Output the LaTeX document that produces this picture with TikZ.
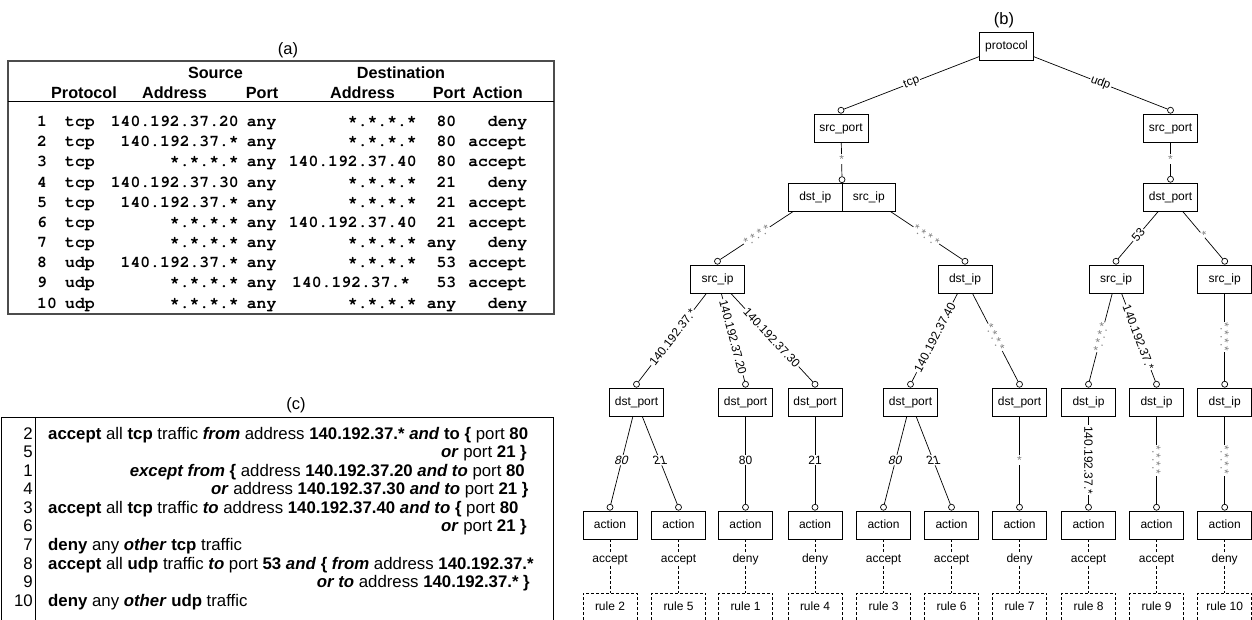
\documentclass[tikz,border=0pt]{standalone}
\usepackage{fontspec}
\setmainfont{Liberation Sans}
\newfontfamily\monob{TeX Gyre Cursor}
\newcommand\kb[1]{\textbf{#1}}
\newcommand\kbi[1]{\textbf{\textit{#1}}}
\tikzset{
  tbox/.style={draw, line width=0.8pt, minimum width=54pt, minimum height=28pt, inner sep=0pt,
    text height=8.6pt, text depth=2.6pt, font=\fontsize{12}{14}\selectfont},
  rbox/.style={tbox, dash pattern=on 3pt off 2pt},
  knob/.style={circle, draw, fill=white, line width=0.7pt, inner sep=0pt, minimum size=6pt, anchor=south},
  edge/.style={line width=0.7pt},
  dedge/.style={line width=0.7pt, dash pattern=on 3pt off 2pt},
  lab/.style={fill=white, inner sep=1pt, font=\fontsize{12}{14}\selectfont},
  slab/.style={lab, sloped},
  glab/.style={lab, text=black!50},
  gslab/.style={glab, sloped},
  restxt/.style={inner sep=1pt, font=\fontsize{12}{14}\selectfont, text height=8.6pt, text depth=2.6pt},
  mono/.style={inner sep=0pt, anchor=base, font=\monob\bfseries\fontsize{16.4}{18}\selectfont},
  hdr/.style={inner sep=0pt, anchor=base, font=\bfseries\fontsize{16.2}{18}\selectfont},
  ctxt/.style={inner sep=0pt, font=\fontsize{16.8}{18}\selectfont},
  captxt/.style={inner sep=0pt, font=\fontsize{16.5}{18}\selectfont},
}
\newcommand\arow[9]{%
  \node[mono, anchor=base west] (r#2n) at (37,#1) {#2};
  \node[mono, anchor=base west] (r#2p) at (65,#1) {#3};
  \node[mono, anchor=base east] (r#2s) at (239,#1) {#4};
  \node[mono, anchor=base west] (r#2q) at (246.7,#1) {any};
  \node[mono, anchor=base east] (r#2d) at (#8,#1) {#5};
  \node[mono, anchor=base east] (r#2e) at (456.5,#1) {#6};
  \node[mono, anchor=base east] (r#2a) at (527.5,#1) {#7};
}
\begin{document}
\begin{tikzpicture}[x=1pt,y=-1pt]
\useasboundingbox (0,0) rectangle (1252,619);
\clip (0,0) rectangle (1252,619);
\fill[white] (0,0) rectangle (1252,619);

% ---------------- (a) table ----------------
\node[captxt] (capa) at (288,50) {(a)};
\draw[line width=1.1pt, black!70] (8,61) rectangle (554,314);
\draw[line width=0.8pt] (8,101) -- (554,101);
\node[hdr] (hsrc) at (215.5,78.5) {Source};
\node[hdr] (hdst) at (401,78.5) {Destination};
\node[hdr] (hprot) at (84,98) {Protocol};
\node[hdr] (hsa) at (174.5,98) {Address};
\node[hdr] (hsp) at (262,98) {Port};
\node[hdr] (hda) at (362.5,98) {Address};
\node[hdr] (hdp) at (449,98) {Port};
\node[hdr] (hac) at (497.5,98) {Action};
\arow{126.5}{1}{tcp}{140.192.37.20}{*.*.*.*}{80}{deny}{417}{}
\arow{146.7}{2}{tcp}{140.192.37.*}{*.*.*.*}{80}{accept}{417}{}
\arow{166.9}{3}{tcp}{*.*.*.*}{140.192.37.40}{80}{accept}{417}{}
\arow{187.0}{4}{tcp}{140.192.37.30}{*.*.*.*}{21}{deny}{417}{}
\arow{207.2}{5}{tcp}{140.192.37.*}{*.*.*.*}{21}{accept}{417}{}
\arow{227.4}{6}{tcp}{*.*.*.*}{140.192.37.40}{21}{accept}{417}{}
\arow{247.6}{7}{tcp}{*.*.*.*}{*.*.*.*}{any}{deny}{417}{}
\arow{267.8}{8}{udp}{140.192.37.*}{*.*.*.*}{53}{accept}{417}{}
\arow{287.9}{9}{udp}{*.*.*.*}{140.192.37.*}{53}{accept}{410.5}{}
\arow{308.1}{10}{udp}{*.*.*.*}{*.*.*.*}{any}{deny}{417}{}

% ---------------- (c) table ----------------
\node[captxt] (capc) at (296,405) {(c)};
\draw[line width=0.8pt] (1,417) rectangle (553.6,640);
\draw[line width=0.8pt] (35.7,417) -- (35.7,640);
\foreach \n/\yy in {2/433,5/451.6,1/470.1,4/488.7,3/507.3,6/525.9,7/544.4,8/563,9/581.6,10/600.1}{
  \node[ctxt, anchor=base east] (cn\n) at (33,\yy+6) {\n};
}
\node[ctxt, anchor=base west] (cl1) at (48,439) {\kb{accept} all \kb{tcp} traffic \kbi{from} address \kb{140.192.37.*} \kbi{and} \kb{to \{} port \kb{80}};
\node[ctxt, anchor=base east] (cl2) at (527,457.6) {\kbi{or} port \kb{21 \}}};
\node[ctxt, anchor=base east] (cl3) at (525,476.1) {\kbi{except from} \kb{\{} address \kb{140.192.37.20} \kbi{and to} port \kb{80}};
\node[ctxt, anchor=base east] (cl4) at (528.6,494.7) {\kbi{or} address \kb{140.192.37.30} \kbi{and to} port \kb{21 \}}};
\node[ctxt, anchor=base west] (cl5) at (48,513.3) {\kb{accept} all \kb{tcp} traffic \kbi{to} address \kb{140.192.37.40} \kbi{and to} \kb{\{} port \kb{80}};
\node[ctxt, anchor=base east] (cl6) at (527,531.9) {\kbi{or} port \kb{21 \}}};
\node[ctxt, anchor=base west] (cl7) at (48,550.4) {\kb{deny} any \kbi{other} \kb{tcp} traffic};
\node[ctxt, anchor=base west] (cl8) at (48,569) {\kb{accept} all \kb{udp} traffic \kbi{to} port \kb{53} \kbi{and} \kb{\{} \kbi{from} address \kb{140.192.37.*}};
\node[ctxt, anchor=base east] (cl9) at (530,587.6) {\kbi{or to} address \kb{140.192.37.* \}}};
\node[ctxt, anchor=base west] (cl10) at (48,606.1) {\kb{deny} any \kbi{other} \kb{udp} traffic};

% ---------------- (b) tree ----------------
\node[captxt] (capb) at (1004,20) {(b)};
\node[tbox] (proto) at (1006.5,46) {protocol};
\node[tbox] (sp1) at (841,128) {src\_port};
\node[tbox] (sp2) at (1170.5,128) {src\_port};
\node[tbox, minimum width=53.5pt] (dipA) at (815.25,197) {dst\_ip};
\node[tbox, minimum width=53.5pt] (sipA) at (868.75,197) {src\_ip};
\coordinate (jA) at (842,183);
\node[tbox] (dpU) at (1170.5,197) {dst\_port};
\node[tbox] (sipB) at (717.5,279) {src\_ip};
\node[tbox] (dipB) at (965,279) {dst\_ip};
\node[tbox] (sipC) at (1116,279) {src\_ip};
\node[tbox] (sipD) at (1224.7,279) {src\_ip};
\node[tbox] (dp1) at (636.5,402) {dst\_port};
\node[tbox] (dp2) at (745.5,402) {dst\_port};
\node[tbox] (dp3) at (815,402) {dst\_port};
\node[tbox] (dp4) at (910.5,402) {dst\_port};
\node[tbox] (dp5) at (1019.5,402) {dst\_port};
\node[tbox] (di1) at (1088.5,402) {dst\_ip};
\node[tbox] (di2) at (1156.5,402) {dst\_ip};
\node[tbox] (di3) at (1224.7,402) {dst\_ip};

\foreach \i/\xx/\res/\rl in {1/610/accept/2, 2/678.5/accept/5, 3/745.5/deny/1, 4/815/deny/4, 5/883.5/accept/3,
   6/951.5/accept/6, 7/1019.5/deny/7, 8/1088.5/accept/8, 9/1156.5/accept/9, 10/1224.7/deny/10}{
  \node[tbox] (act\i) at (\xx,525) {action};
  \node[restxt] (res\i) at (\xx,559) {\res};
  \node[rbox] (rule\i) at (\xx,607) {rule \rl};
  \draw[dedge] (act\i) -- (res\i);
  \draw[dedge] (res\i) -- (rule\i);
  \node[knob] (kact\i) at (act\i.north) {};
}
\foreach \n in {sp1,sp2,dpU,sipB,dipB,sipC,sipD,dp1,dp2,dp3,dp4,dp5,di1,di2,di3}{
  \node[knob] (k\n) at (\n.north) {};
}
\node[knob] (kjA) at (jA) {};

\draw[edge] (proto) -- node[slab] (l01) {tcp} (ksp1);
\draw[edge] (proto) -- node[slab] (l02) {udp} (ksp2);
\draw[edge] (sp1) -- node[glab] (l11) {*} (kjA);
\draw[edge] (sp2) -- node[glab] (l12) {*} (kdpU);
\draw[edge] (dipA) -- node[gslab] (l21) {*.*.*.*} (ksipB);
\draw[edge] (sipA) -- node[gslab] (l22) {*.*.*.*} (kdipB);
\draw[edge] (dpU) -- node[slab] (l23) {53} (ksipC);
\draw[edge] (dpU) -- node[gslab] (l24) {*} (ksipD);
\draw[edge] (sipB) -- node[slab] (l31) {140.192.37.*} (kdp1);
\draw[edge] (sipB) -- node[slab] (l32) {140.192.37.20} (kdp2);
\draw[edge] (sipB) -- node[slab] (l33) {140.192.37.30} (kdp3);
\draw[edge] (dipB) -- node[slab] (l34) {140.192.37.40} (kdp4);
\draw[edge] (dipB) -- node[gslab] (l35) {*.*.*.*} (kdp5);
\draw[edge] (sipC) -- node[gslab] (l36) {*.*.*.*} (kdi1);
\draw[edge] (sipC) -- node[slab] (l37) {140.192.37.*} (kdi2);
\draw[edge] (sipD) -- node[gslab] (l38) {*.*.*.*} (kdi3);
\draw[edge] (dp1) -- node[lab, xslant=0.25] (l41) {80} (kact1);
\draw[edge] (dp1) -- node[lab, xslant=-0.3] (l42) {21} (kact2);
\draw[edge] (dp2) -- node[lab] (l43) {80} (kact3);
\draw[edge] (dp3) -- node[lab] (l44) {21} (kact4);
\draw[edge] (dp4) -- node[lab, xslant=0.25] (l45) {80} (kact5);
\draw[edge] (dp4) -- node[lab, xslant=-0.3] (l46) {21} (kact6);
\draw[edge] (dp5) -- node[glab] (l47) {*} (kact7);
\draw[edge] (di1) -- node[slab] (l48) {140.192.37.*} (kact8);
\draw[edge] (di2) -- node[gslab] (l49) {*.*.*.*} (kact9);
\draw[edge] (di3) -- node[gslab] (l410) {*.*.*.*} (kact10);
\end{tikzpicture}
\end{document}
